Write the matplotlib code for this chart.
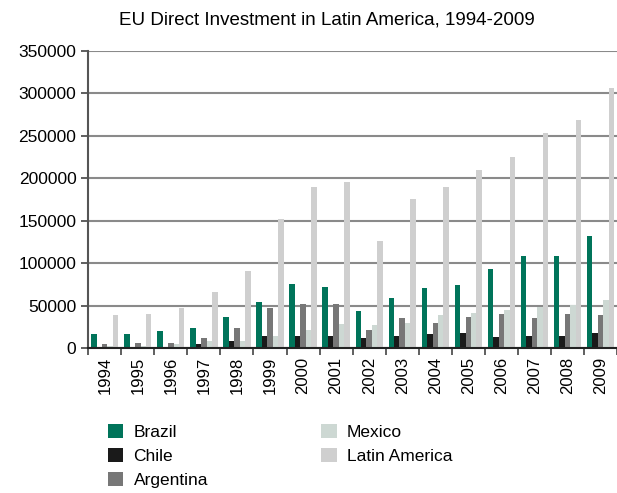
import matplotlib.pyplot as plt
import numpy as np

plt.rcParams['font.family'] = ['Liberation Sans', 'DejaVu Sans']

years = [str(y) for y in range(1994, 2010)]
brazil = [16900, 16900, 20400, 23900, 36800, 54500, 75700, 72100,
          43900, 59200, 71000, 74500, 93300, 108600, 108600, 132000]
chile = [1500, 1200, 1200, 5100, 8600, 14500, 14500, 14500,
         12200, 14500, 16900, 18000, 13300, 14500, 14500, 18000]
argentina = [5100, 6300, 6300, 12200, 23900, 47400, 52100, 52100,
             21600, 35700, 29800, 36800, 40400, 35700, 40400, 39200]
mexico = [2700, 2700, 5100, 8600, 8600, 14500, 21600, 28600,
          27400, 29800, 39200, 41600, 45100, 48600, 51000, 56800]
latin_america = [39200, 40400, 47400, 66200, 91000, 152000, 190000, 195000,
                 126000, 175000, 190000, 210000, 225000, 253000, 268000, 306000]

series = [("Brazil", brazil, "#00745a"),
          ("Chile", chile, "#1a1a1a"),
          ("Argentina", argentina, "#777777"),
          ("Mexico", mexico, "#cdd8d3"),
          ("Latin America", latin_america, "#cfcfcf")]

fig = plt.figure(figsize=(6.17, 4.93), dpi=100)
ax = fig.add_axes([0.143, 0.294, 0.857, 0.603])

x = np.arange(len(years))
w = 0.165
for i, (name, vals, col) in enumerate(series):
    ax.bar(x + (i - 2) * w, vals, w, color=col, label=name, zorder=2)

ax.set_xlim(-0.5, len(years) - 0.5)
ax.set_ylim(0, 350000)
ax.set_yticks(np.arange(0, 350001, 50000))
ax.yaxis.grid(True, color="#8a8a8a", linewidth=1.5, zorder=0)
ax.set_axisbelow(True)

ax.set_xticks(x)
ax.set_xticklabels(years, rotation=90, fontsize=12)
ax.set_xticks(np.arange(-0.5, len(years), 1), minor=True)
ax.tick_params(axis='x', which='major', length=0, pad=6)
ax.tick_params(axis='x', which='minor', length=5, width=1.2, color="#444444")
ax.tick_params(axis='y', length=5, width=1.2, color="#444444", labelsize=12.5)

for s in ["top", "right"]:
    ax.spines[s].set_visible(False)
ax.spines["left"].set_color("#555555")
ax.spines["left"].set_linewidth(1.5)
ax.spines["bottom"].set_color("#222222")
ax.spines["bottom"].set_linewidth(1.5)

fig.text(0.529, 0.960, "EU Direct Investment in Latin America, 1994-2009",
         ha="center", va="center", fontsize=13.5)

fig.legend(loc="upper left", bbox_to_anchor=(0.163, 0.155), ncol=2,
           frameon=False, fontsize=12.5, handlelength=0.9, handleheight=0.9,
           handletextpad=0.6, columnspacing=6.5, labelspacing=0.45,
           borderaxespad=0)

fig.savefig("out.png", dpi=100)
